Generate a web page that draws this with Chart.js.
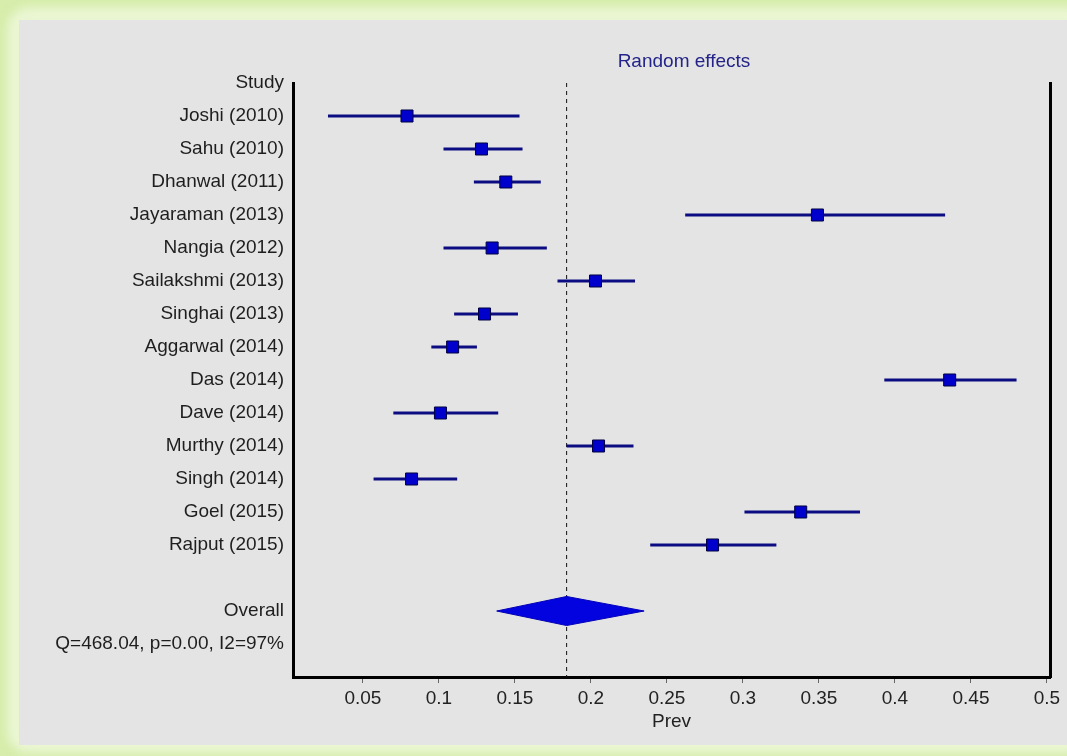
<!DOCTYPE html>
<html>
<head>
<meta charset="utf-8">
<script src="https://cdn.jsdelivr.net/npm/chart.js@4.4.1/dist/chart.umd.min.js"></script>
<style>
  html, body { margin: 0; padding: 0; }
  body { width: 1067px; height: 756px; overflow: hidden; background: #d6edab; position: relative; }
  #glow { position: absolute; left: 7px; top: 7px; right: -30px; bottom: 3px; background: #eaf6d2; border-radius: 22px; filter: blur(5px); }
  #panel { position: absolute; left: 19px; top: 20px; right: 0; bottom: 11px; background: #e4e4e4; }
  #wrap { position: absolute; left: 0; top: 0; width: 1067px; height: 756px; }
</style>
</head>
<body>
<div id="glow"></div>
<div id="panel"></div>
<div id="wrap"><canvas id="chart"></canvas></div>
<script>
// studies, top to bottom
const studies = [
  'Joshi (2010)', 'Sahu (2010)', 'Dhanwal (2011)', 'Jayaraman (2013)', 'Nangia (2012)',
  'Sailakshmi (2013)', 'Singhai (2013)', 'Aggarwal (2014)', 'Das (2014)', 'Dave (2014)',
  'Murthy (2014)', 'Singh (2014)', 'Goel (2015)', 'Rajput (2015)'
]
// prevalence estimate and 95% CI
const prev   = [0.079, 0.128, 0.144, 0.349, 0.135, 0.203, 0.130, 0.109, 0.436, 0.101, 0.205, 0.082, 0.338, 0.280]
const ciLow  = [0.027, 0.103, 0.123, 0.262, 0.103, 0.178, 0.110, 0.095, 0.393, 0.070, 0.184, 0.057, 0.301, 0.239]
const ciHigh = [0.153, 0.155, 0.167, 0.433, 0.171, 0.229, 0.152, 0.125, 0.480, 0.139, 0.228, 0.112, 0.377, 0.322]

// pooled random effects result
const overallPrev = 0.184
const overallLow = 0.138
const overallHigh = 0.235
const statsLabel = 'Q=468.04, p=0.00, I2=97%'
const panelTitle = 'Random effects'

const xTicks = [0.05, 0.1, 0.15, 0.2, 0.25, 0.3, 0.35, 0.4, 0.45, 0.5]
const xTickLabels = ['0.05', '0.1', '0.15', '0.2', '0.25', '0.3', '0.35', '0.4', '0.45', '0.5']

// row labels on the left axis: header, studies, gap, overall, stats
const rowLabels = ['Study', ...studies, '', 'Overall', statsLabel]
const overallRow = studies.length + 2
const rowCount = rowLabels.length + 1

const FONT = { family: '"Liberation Sans", Arial, sans-serif', size: 19 }
const NAVY = '#0c0c82'

const datasets = []

// study squares
datasets.push({
  data: studies.map((s, i) => ({ x: prev[i], y: i + 1 })),
  pointStyle: 'rect', pointRadius: 8.5, pointHoverRadius: 8.5,
  backgroundColor: '#0000cc', borderColor: '#000040', borderWidth: 1,
  showLine: false
})

// confidence interval lines
studies.forEach((s, i) => {
  datasets.push({
    data: [{ x: ciLow[i], y: i + 1 }, { x: ciHigh[i], y: i + 1 }],
    showLine: true, pointRadius: 0, borderColor: NAVY, borderWidth: 3
  })
})

// overall diamond, upper and lower halves filled between
const halfH = 0.44
datasets.push({
  data: [{ x: overallLow, y: overallRow }, { x: overallPrev, y: overallRow - halfH }, { x: overallHigh, y: overallRow }],
  showLine: true, pointRadius: 0, borderColor: '#0000b8', borderWidth: 1, fill: false
})
datasets.push({
  data: [{ x: overallLow, y: overallRow }, { x: overallPrev, y: overallRow + halfH }, { x: overallHigh, y: overallRow }],
  showLine: true, pointRadius: 0, borderColor: '#0000b8', borderWidth: 1,
  fill: '-1', backgroundColor: '#0303e0'
})

// dashed line at the pooled estimate
datasets.push({
  data: [{ x: overallPrev, y: 0 }, { x: overallPrev, y: rowCount - 1 }],
  showLine: true, pointRadius: 0, borderColor: '#111111', borderWidth: 1, borderDash: [4, 4]
})

const titlePlugin = {
  id: 'panelTitle',
  afterDraw(chart) {
    const ctx = chart.ctx
    ctx.save()
    ctx.font = `${FONT.size}px ${FONT.family}`
    ctx.fillStyle = '#23238a'
    ctx.textAlign = 'center'
    ctx.textBaseline = 'middle'
    ctx.fillText(panelTitle, 684, 62)
    ctx.restore()
  }
}

new Chart(document.getElementById('chart'), {
  type: 'scatter',
  data: { datasets },
  plugins: [titlePlugin],
  options: {
    responsive: true,
    maintainAspectRatio: false,
    animation: false,
    events: [],
    layout: { padding: { left: 0, right: 17, top: 83, bottom: 0 } },
    plugins: { legend: { display: false }, tooltip: { enabled: false } },
    scales: {
      x: {
        type: 'linear', position: 'bottom', min: 0.004, max: 0.502,
        afterBuildTicks: (s) => { s.ticks = xTicks.map(v => ({ value: v })) },
        afterFit: (s) => { s.height = 79 },
        ticks: {
          callback: (v, i) => xTickLabels[i],
          font: FONT, color: '#222222', padding: 4, maxRotation: 0, autoSkip: false
        },
        grid: { display: true, drawOnChartArea: false, drawTicks: true, tickLength: 6, tickColor: '#666666', tickWidth: 1 },
        border: { display: true, color: '#000000', width: 3 },
        title: { display: true, text: 'Prev', font: FONT, color: '#222222', padding: { top: 0, bottom: 23 } }
      },
      y: {
        type: 'linear', position: 'left', min: 0, max: rowCount - 1, reverse: true,
        afterBuildTicks: (s) => { s.ticks = rowLabels.map((l, i) => ({ value: i })) },
        afterFit: (s) => { s.width = 293 },
        ticks: {
          callback: (v) => rowLabels[v] || '',
          font: FONT, color: '#1e1e1e', padding: 9, autoSkip: false
        },
        grid: { display: false, drawTicks: false },
        border: { display: true, color: '#000000', width: 3 }
      },
      y2: {
        type: 'linear', position: 'right', min: 0, max: rowCount - 1,
        afterFit: (s) => { s.width = 0 },
        ticks: { display: false },
        grid: { display: false },
        border: { display: true, color: '#000000', width: 3 }
      }
    }
  }
})
</script>
</body>
</html>
